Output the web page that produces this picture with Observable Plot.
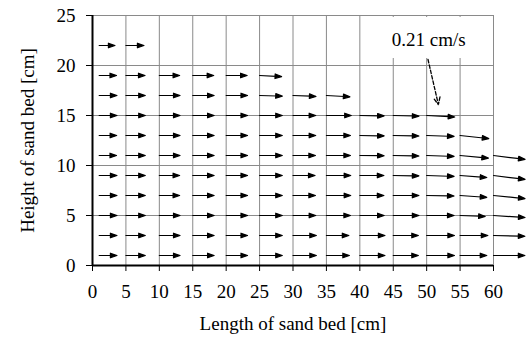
<!DOCTYPE html>
<html>
<head>
<meta charset="utf-8">
<script src="https://cdn.jsdelivr.net/npm/d3@7"></script>
<script src="https://cdn.jsdelivr.net/npm/@observablehq/plot@0.6"></script>
<style>
  body { margin: 0; background: #fff; }
  svg text { font-family: "Liberation Serif", "Times New Roman", serif; }
</style>
</head>
<body>
<div id="chart"></div>
<script>
// Measuring stations along the bed [cm] and the heights of each row [cm]
const xStations = [1, 5, 10, 15, 20, 25, 30, 35, 40, 45, 50, 55, 60];
const rowHeights = [22, 19, 17, 15, 13, 11, 9, 7, 5, 3, 1];

// Horizontal velocity per row [cm/s], from x = 1 cm onward
const u22 = [0.118, 0.135];
const u19 = [0.130, 0.143, 0.152, 0.157, 0.157, 0.165];
const u17 = [0.133, 0.145, 0.155, 0.160, 0.160, 0.170, 0.172, 0.176];
const u15 = [0.133, 0.145, 0.155, 0.160, 0.160, 0.170, 0.170, 0.186, 0.182, 0.192, 0.210];
const u13 = [0.131, 0.145, 0.155, 0.160, 0.160, 0.170, 0.170, 0.180, 0.182, 0.192, 0.205, 0.215];
const u11 = [0.130, 0.145, 0.155, 0.160, 0.160, 0.170, 0.168, 0.180, 0.182, 0.192, 0.205, 0.212, 0.236];
const u9  = [0.133, 0.145, 0.152, 0.160, 0.160, 0.170, 0.165, 0.182, 0.180, 0.192, 0.205, 0.200, 0.236];
const u7  = [0.133, 0.145, 0.152, 0.160, 0.160, 0.170, 0.168, 0.182, 0.180, 0.192, 0.205, 0.200, 0.236];
const u5  = [0.133, 0.145, 0.155, 0.160, 0.160, 0.170, 0.170, 0.180, 0.182, 0.192, 0.205, 0.188, 0.236];
const u3  = [0.133, 0.145, 0.155, 0.160, 0.160, 0.170, 0.175, 0.168, 0.188, 0.188, 0.208, 0.208, 0.235];
const u1  = [0.133, 0.145, 0.155, 0.160, 0.160, 0.170, 0.175, 0.172, 0.188, 0.188, 0.208, 0.200, 0.235];

// Vertical velocity per row [cm/s] (negative = downward)
const w22 = [0, 0];
const w19 = [0, 0, 0, 0, 0, -0.008];
const w17 = [0, 0, 0, 0, 0, -0.005, -0.007, -0.010];
const w15 = [0, 0, 0, 0, 0, 0, 0, 0, -0.003, -0.005, -0.011];
const w13 = [0, 0, 0, 0, 0, 0, 0, 0, -0.003, -0.004, -0.007, -0.023];
const w11 = [0, 0, 0, 0, 0, 0, 0, 0, -0.002, -0.004, -0.007, -0.020, -0.029];
const w9  = [0, 0, 0, 0, 0, 0, 0, 0, 0, -0.003, -0.007, -0.015, -0.029];
const w7  = [0, 0, 0, 0, 0, 0, 0, 0, 0, 0, -0.004, -0.014, -0.023];
const w5  = [0, 0, 0, 0, 0, 0, 0, 0, 0, 0, 0, -0.007, -0.015];
const w3  = [0, 0, 0, 0, 0, 0, 0, 0, 0, 0, 0, 0, -0.006];
const w1  = [0, 0, 0, 0, 0, 0, 0, 0, 0, 0, 0, 0, 0];

// Axis ticks and titles
const xTicks = [0, 5, 10, 15, 20, 25, 30, 35, 40, 45, 50, 55, 60];
const yTicks = [0, 5, 10, 15, 20, 25];
const xTitle = "Length of sand bed [cm]";
const yTitle = "Height of sand bed [cm]";

// Reference vector annotation
const refSpeed = 0.21;
const refLabel = "0.21 cm/s";
const refLabelPos = [{x: 50.3, y: 22.6}];
const refBox = [{x1: 43.6, x2: 56.6, y1: 20.7, y2: 24.8}];
const refPointer = [{x1: 50.2, y1: 20.6, x2: 51.75, y2: 16.1}];

const uRows = [u22, u19, u17, u15, u13, u11, u9, u7, u5, u3, u1];
const wRows = [w22, w19, w17, w15, w13, w11, w9, w7, w5, w3, w1];

const vectors = rowHeights.flatMap((h, i) =>
  uRows[i].map((u, j) => ({x: xStations[j], y: h, u, w: wRows[i][j] ?? 0}))
);

// Straight shaft with a filled triangular head, drawn pointing up
const filledArrow = {
  draw(context, l) {
    const head = 6.5, half = 2.3;
    context.moveTo(0, 0);
    context.lineTo(0, -(l - head + 1));
    context.moveTo(-half, -(l - head));
    context.lineTo(0, -l);
    context.lineTo(half, -(l - head));
    context.closePath();
  }
};

const font = "Liberation Serif";
const fs = 19;

const chart = Plot.plot({
  width: 532,
  height: 343,
  marginLeft: 92,
  marginRight: 39,
  marginTop: 15,
  marginBottom: 78,
  style: {fontFamily: font, fontSize: "19px", color: "black", background: "white", overflow: "visible"},
  x: {domain: [0, 60]},
  y: {domain: [0, 25]},
  length: {type: "linear", domain: [0, refSpeed], range: [0, 28]},
  marks: [
    // grid
    Plot.ruleX(xTicks.filter((d) => d > 0), {stroke: "#8a8a8a", strokeWidth: 1}),
    Plot.ruleY(yTicks.filter((d) => d > 0), {stroke: "#8a8a8a", strokeWidth: 1}),
    // label backdrop
    Plot.rect(refBox, {x1: "x1", x2: "x2", y1: "y1", y2: "y2", fill: "white"}),
    // axes
    Plot.axisX({ticks: xTicks, tickSize: 6, tickPadding: 13, fontSize: fs, fontFamily: font, label: null}),
    Plot.axisY({ticks: yTicks, tickSize: 6, tickPadding: 11, fontSize: fs, fontFamily: font, label: null}),
    Plot.ruleX([0], {stroke: "black", strokeWidth: 2}),
    Plot.ruleY([0], {stroke: "black", strokeWidth: 2}),
    // velocity vectors
    Plot.vector(vectors, {
      x: "x",
      y: "y",
      length: (d) => Math.hypot(d.u, d.w),
      rotate: (d) => 90 + Math.atan2(-d.w, d.u) * 180 / Math.PI,
      anchor: "start",
      shape: filledArrow,
      stroke: "black",
      fill: "black",
      strokeWidth: 1.2
    }),
    // reference annotation
    Plot.text(refLabelPos, {x: "x", y: "y", text: () => refLabel, fontSize: fs, fontFamily: font}),
    Plot.arrow(refPointer, {
      x1: "x1", y1: "y1", x2: "x2", y2: "y2",
      stroke: "black", strokeWidth: 1.3, strokeDasharray: "3.5,2",
      headLength: 9, headAngle: 50, bend: 0
    }),
    // axis titles
    Plot.text([xTitle], {frameAnchor: "bottom", dy: 64, text: (d) => d, fontSize: fs, fontFamily: font}),
    Plot.text([yTitle], {frameAnchor: "left", textAnchor: "middle", dx: -65, rotate: -90, text: (d) => d, fontSize: fs, fontFamily: font})
  ]
});

document.getElementById("chart").appendChild(chart);
</script>
</body>
</html>
